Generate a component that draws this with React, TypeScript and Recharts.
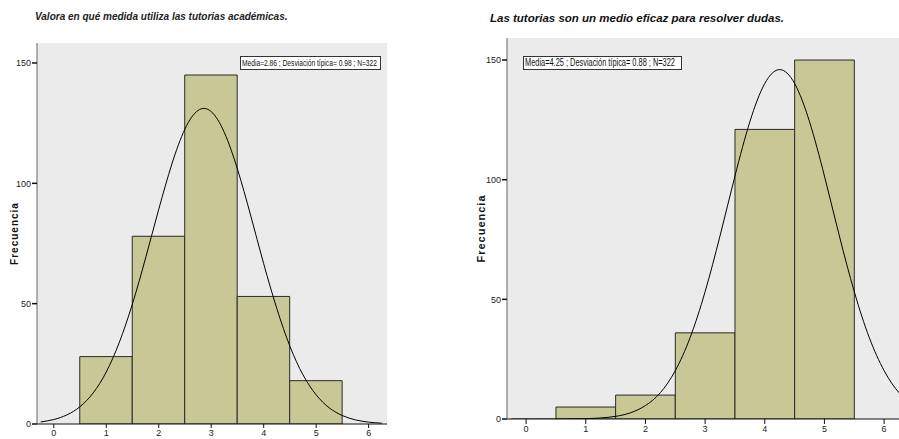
import {
  ComposedChart,
  Bar,
  Line,
  XAxis,
  YAxis,
  CartesianGrid,
  Label,
  Rectangle,
} from 'recharts'

// left: "Valora en qué medida utiliza las tutorias académicas."
const LEFT_BINS = [1, 2, 3, 4, 5]
const LEFT_COUNTS = [28, 78, 145, 53, 18]
const LEFT_CURVE_X = [
  -0.25, 0, 0.25, 0.5, 0.75, 1, 1.25, 1.5, 1.75, 2, 2.25, 2.5, 2.75, 3, 3.25, 3.5,
  3.75, 4, 4.25, 4.5, 4.75, 5, 5.25, 5.5, 5.75, 6, 6.25,
]
const LEFT_CURVE_Y = [
  0.85, 1.86, 3.78, 7.2, 12.9, 21.6, 34.0, 50.0, 69.0, 89.2, 108.0, 122.6, 130.3,
  129.8, 121.1, 105.9, 86.8, 66.6, 48.0, 32.3, 20.4, 12.1, 6.7, 3.5, 1.7, 0.77, 0.33,
]

// right: "Las tutorias son un medio eficaz para resolver dudas."
const RIGHT_BINS = [1, 2, 3, 4, 5]
const RIGHT_COUNTS = [5, 10, 36, 121, 150]
const RIGHT_CURVE_X = [
  -0.25, 0.5, 1, 1.25, 1.5, 1.75, 2, 2.25, 2.5, 2.75, 3, 3.25, 3.5, 3.75, 4, 4.25,
  4.5, 4.75, 5, 5.25, 5.5, 5.75, 6, 6.25, 6.5,
]
const RIGHT_CURVE_Y = [
  0, 0, 0.16, 0.44, 1.1, 2.6, 5.6, 11.0, 20.2, 34.1, 53.2, 76.5, 101.5, 124.2, 140.2,
  146.0, 140.2, 124.2, 101.5, 76.5, 53.2, 34.1, 20.2, 11.0, 5.6,
]

const X_TICKS = [0, 1, 2, 3, 4, 5, 6]
const Y_TICKS = [0, 50, 100, 150]
const X_DOMAIN: [number, number] = [-0.32, 6.35]

const narrow = '"Liberation Sans Narrow", "Arial Narrow", Arial, sans-serif'
const BAR_FILL = '#c8c896'
const PLOT_BG = '#ebebeb'

interface HistProps {
  bins: number[]
  counts: number[]
  curveX: number[]
  curveY: number[]
  width: number
  height: number
  margin: { top: number; right: number; bottom: number; left: number }
  yAxisWidth: number
  xAxisHeight: number
  yMax: number
  labelSize: number
  labelOffset: number
  tickSize: number
}

function Histogram(p: HistProps) {
  const bars = p.bins.map((b, i) => ({ x: b, count: p.counts[i] }))
  const curve = p.curveX.map((x, i) => ({ x, curve: p.curveY[i] }))
  const tickStyle = { fontSize: 9, fill: '#222', fontFamily: narrow }
  // one bin is one unit of the x scale
  const plotW = p.width - p.margin.left - p.margin.right - p.yAxisWidth
  const unit = plotW / (X_DOMAIN[1] - X_DOMAIN[0])
  const binShape = (props: any) => {
    const cx = props.x + props.width / 2
    return (
      <Rectangle
        x={cx - unit / 2}
        y={props.y}
        width={unit}
        height={props.height}
        fill={BAR_FILL}
        stroke="#2a2a2a"
        strokeWidth={1}
      />
    )
  }
  return (
    <ComposedChart width={p.width} height={p.height} data={bars} margin={p.margin}>
      <CartesianGrid horizontal={false} vertical={false} fill={PLOT_BG} />
      <XAxis
        dataKey="x"
        type="number"
        domain={X_DOMAIN}
        ticks={X_TICKS}
        interval={0}
        allowDataOverflow
        height={p.xAxisHeight}
        tick={tickStyle}
        tickSize={p.tickSize}
        tickMargin={2}
        stroke="#111"
      />
      <XAxis
        xAxisId="top"
        orientation="top"
        type="number"
        domain={X_DOMAIN}
        height={0}
        tick={false}
        tickLine={false}
        stroke="#666"
      />
      <YAxis
        type="number"
        domain={[0, p.yMax]}
        ticks={Y_TICKS}
        allowDataOverflow
        width={p.yAxisWidth}
        tick={tickStyle}
        tickSize={5}
        tickMargin={1}
        stroke="#666"
        tickLine={{ stroke: '#111', strokeWidth: 1.5 }}
      >
        <Label
          value="Frecuencia"
          angle={-90}
          position="insideLeft"
          offset={p.labelOffset}
          style={{
            fontSize: p.labelSize,
            fontWeight: 'bold',
            fill: '#111',
            fontFamily: 'Arial, "Liberation Sans", sans-serif',
            letterSpacing: 1,
            textAnchor: 'middle',
          }}
        />
      </YAxis>
      <YAxis
        yAxisId="right"
        orientation="right"
        type="number"
        domain={[0, p.yMax]}
        width={0}
        tick={false}
        tickLine={false}
        stroke="#666"
      />
      <Bar dataKey="count" shape={binShape} isAnimationActive={false} />
      <Line
        data={curve}
        dataKey="curve"
        type="natural"
        stroke="#000"
        strokeWidth={1}
        dot={false}
        activeDot={false}
        isAnimationActive={false}
      />
    </ComposedChart>
  )
}

function StatsBox(props: { left: number; top: number; width: number; size: number; text: string }) {
  return (
    <div
      style={{
        position: 'absolute',
        left: props.left,
        top: props.top,
        width: props.width,
        height: 12,
        background: '#fff',
        border: '1px solid #333',
        overflow: 'hidden',
        display: 'flex',
        alignItems: 'center',
      }}
    >
      <div
        style={{
          fontFamily: 'Arial, "Liberation Sans", sans-serif',
          fontSize: props.size,
          lineHeight: 1,
          color: '#111',
          whiteSpace: 'nowrap',
          transform: 'scaleX(0.74)',
          transformOrigin: 'left center',
          marginLeft: 1,
        }}
      >
        {props.text}
      </div>
    </div>
  )
}

export default function App() {
  return (
    <div
      style={{
        position: 'fixed',
        left: 0,
        top: 0,
        width: 899,
        height: 439,
        overflow: 'hidden',
        background: '#fff',
      }}
    >
      <div
        style={{
          position: 'absolute',
          left: 35,
          top: 11,
          fontFamily: 'Arial, "Liberation Sans", sans-serif',
          fontStyle: 'italic',
          fontWeight: 'bold',
          fontSize: 10,
          color: '#222',
        }}
      >
        Valora en qué medida utiliza las tutorias académicas.
      </div>
      <div
        style={{
          position: 'absolute',
          left: 490,
          top: 12,
          fontFamily: 'Arial, "Liberation Sans", sans-serif',
          fontStyle: 'italic',
          fontWeight: 'bold',
          fontSize: 11.5,
          color: '#111',
        }}
      >
        Las tutorias son un medio eficaz para resolver dudas.
      </div>

      <div style={{ position: 'absolute', left: 0, top: 0 }}>
        <Histogram
          bins={LEFT_BINS}
          counts={LEFT_COUNTS}
          curveX={LEFT_CURVE_X}
          curveY={LEFT_CURVE_Y}
          width={450}
          height={439}
          margin={{ top: 43, right: 63, bottom: 0, left: 0 }}
          yAxisWidth={37}
          xAxisHeight={15}
          yMax={158.3}
          labelSize={10}
          labelOffset={14}
          tickSize={4}
        />
      </div>
      <div style={{ position: 'absolute', left: 450, top: 0 }}>
        <Histogram
          bins={RIGHT_BINS}
          counts={RIGHT_COUNTS}
          curveX={RIGHT_CURVE_X}
          curveY={RIGHT_CURVE_Y}
          width={460}
          height={439}
          margin={{ top: 38, right: 5, bottom: 0, left: 0 }}
          yAxisWidth={57}
          xAxisHeight={20}
          yMax={159.2}
          labelSize={11}
          labelOffset={31}
          tickSize={5}
        />
      </div>

      <StatsBox left={240} top={56} width={139} size={9} text="Media=2.86 ; Desviación típica= 0.98 ; N=322" />
      <StatsBox left={523} top={56} width={157} size={10} text="Media=4.25 ; Desviación típica= 0.88 ; N=322" />
    </div>
  )
}
